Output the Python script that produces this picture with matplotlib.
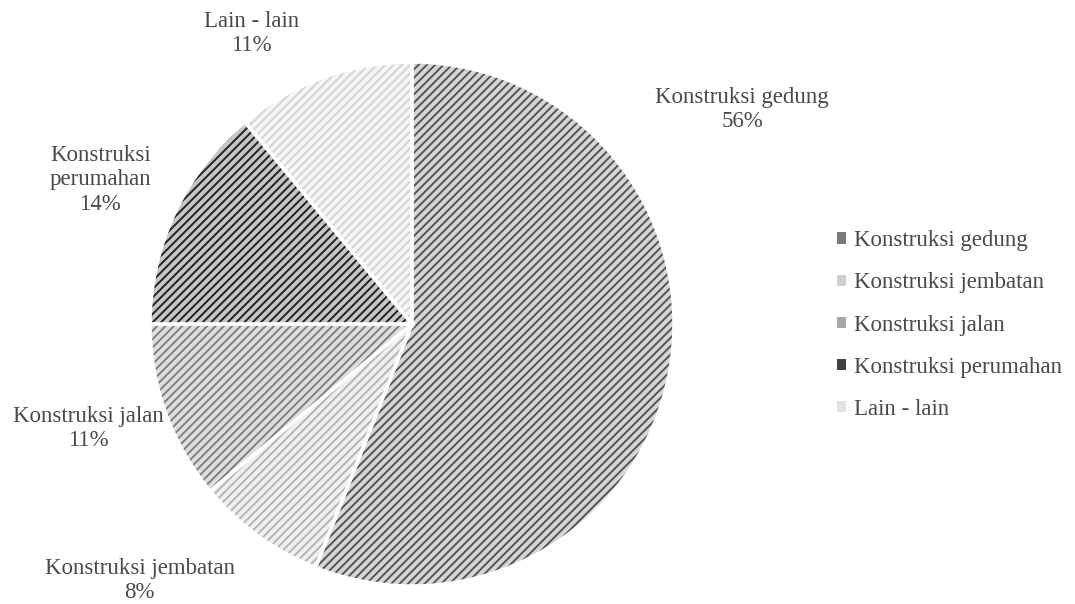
import matplotlib.pyplot as plt
from matplotlib.patches import Patch

# data
labels = ["Konstruksi gedung", "Konstruksi jembatan", "Konstruksi jalan",
          "Konstruksi perumahan", "Lain - lain"]
values = [56, 8, 11, 14, 11]

# style
face_colors = ["#d6d6d6", "#f0f0f0", "#dedede", "#c6c6c6", "#f6f6f6"]
hatch_colors = ["#555555", "#b5b5b5", "#7f7f7f", "#222222", "#d4d4d4"]
legend_colors = ["#7a7a7a", "#cfcfcf", "#a8a8a8", "#404040", "#e2e2e2"]
label_text = ["Konstruksi gedung\n56%", "Konstruksi jembatan\n8%", "Konstruksi jalan\n11%",
              "Konstruksi\nperumahan\n14%", "Lain - lain\n11%"]
label_pos = [(1.26, 0.82), (-1.04, -0.98), (-1.237, -0.40), (-1.19, 0.55), (-0.614, 1.11)]
text_color = "#4a4a4a"

plt.rcParams["font.family"] = ["Liberation Serif", "DejaVu Serif"]
plt.rcParams["hatch.linewidth"] = 1.4

fig = plt.figure(figsize=(10.75, 6.04), dpi=100)
ax = fig.add_axes([150 / 1075, (604 - 586) / 604, 524 / 1075, 524 / 604])

wedges, _ = ax.pie(values, startangle=90, counterclock=False, radius=1,
                   colors=face_colors, wedgeprops=dict(linewidth=0))
for w, hc in zip(wedges, hatch_colors):
    w.set_hatch("////")
    w.set_edgecolor(hc)

# white separators
ax.pie(values, startangle=90, counterclock=False, radius=1,
       wedgeprops=dict(fill=False, edgecolor="white", linewidth=2.5))

for txt, (x, y) in zip(label_text, label_pos):
    ax.text(x, y, txt, ha="center", va="center", fontsize=16.5,
            color=text_color, linespacing=1.2)

ax.set_xlim(-1, 1)
ax.set_ylim(-1, 1)
ax.set_aspect("equal")
ax.axis("off")

handles = [Patch(facecolor=c, edgecolor="none") for c in legend_colors]
leg = fig.legend(handles, labels, loc="center left", bbox_to_anchor=(837 / 1075, (604 - 325) / 604),
                 frameon=False, fontsize=16.5, handlelength=0.38, handleheight=0.38,
                 handletextpad=0.35, labelspacing=0.92, borderpad=0, borderaxespad=0)
for t in leg.get_texts():
    t.set_color(text_color)

fig.savefig("out.png", dpi=100)
